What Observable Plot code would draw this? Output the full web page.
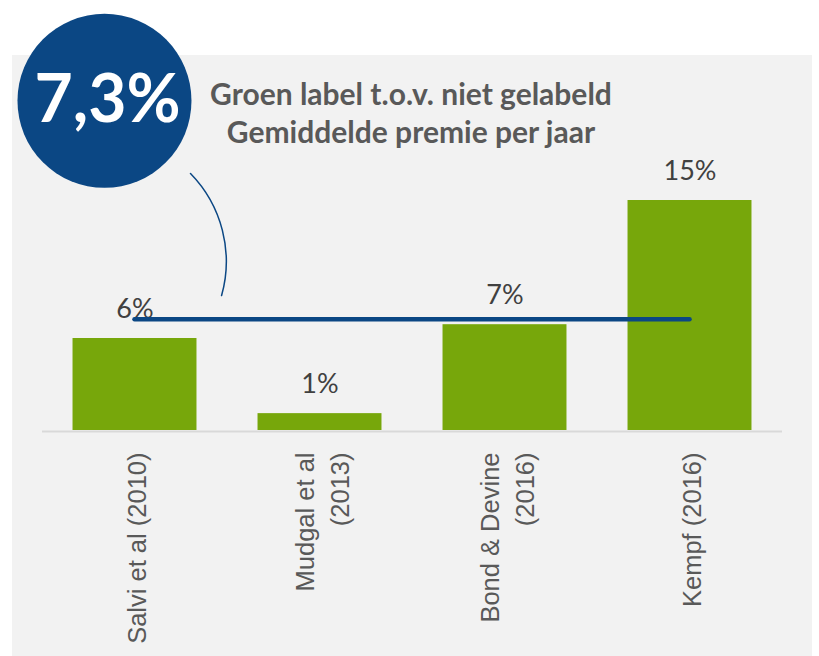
<!DOCTYPE html>
<html>
<head>
<meta charset="utf-8">
<script src="https://cdn.jsdelivr.net/npm/d3@7"></script>
<script src="https://cdn.jsdelivr.net/npm/@observablehq/plot@0.6"></script>
<style>
  html, body { margin: 0; padding: 0; background: #ffffff; }
  #wrap { position: relative; width: 819px; height: 656px; overflow: hidden; }
  #panel { position: absolute; left: 12px; top: 55px; width: 800px; height: 601px; background: #f2f2f2; }
  #title { position: absolute; left: 0; top: 74px; width: 822px; text-align: center;
           font-family: Lato, "Open Sans", sans-serif; font-weight: 700; font-size: 30px;
           line-height: 38px; color: #595959; }
  #chart { position: absolute; left: 0; top: 0; }
</style>
</head>
<body>
<div id="wrap">
  <div id="panel"></div>
  <div id="chart"></div>
  <div id="title">Groen label t.o.v. niet gelabeld<br>Gemiddelde premie per jaar</div>
</div>
<script>
// ---- data ----
const categories = ["Salvi et al (2010)", "Mudgal et al\n(2013)", "Bond & Devine\n(2016)", "Kempf (2016)"];
const values = [6.0, 1.1, 6.9, 15.0];
const valueLabels = ["6%", "1%", "7%", "15%"];

const data = categories.map((c, i) => ({i, category: c, value: values[i], label: valueLabels[i]}));
const average = d3.mean(values);
const averageLabel = average.toFixed(1).replace(".", ",") + "%";

// annotation placement (data space)
const badge = {x: -0.165, y: 21.5};
const connector = {x1: 0.30, y1: 16.76, x2: 0.468, y2: 8.8};

const green = "#77a70b";
const blue = "#0b4784";
const barHalf = 0.335;

const chart = Plot.plot({
  width: 819,
  height: 656,
  marginLeft: 42,
  marginRight: 37,
  marginTop: 46.667,
  marginBottom: 226,
  style: {background: "transparent", overflow: "visible"},
  x: {type: "linear", domain: [-0.5, 3.5]},
  y: {domain: [0, 25], axis: null},
  marks: [
    Plot.ruleY([0], {stroke: "#d9d9d9", strokeWidth: 2, dy: 1}),
    Plot.rect(data, {x1: d => d.i - barHalf, x2: d => d.i + barHalf, y1: 0, y2: "value", fill: green}),
    Plot.text(data, {x: "i", y: "value", text: "label", dy: -21, lineAnchor: "bottom",
      fontFamily: "Lato, 'Open Sans', sans-serif", fontSize: 27, fill: "#404040"}),
    Plot.ruleY([average], {x1: 0, x2: categories.length - 1, stroke: blue, strokeWidth: 4.5, strokeLinecap: "round"}),
    Plot.arrow([connector], {x1: "x1", y1: "y1", x2: "x2", y2: "y2", bend: 30, headLength: 0,
      stroke: blue, strokeWidth: 1.5}),
    Plot.dot([badge], {x: "x", y: "y", r: 87, fill: blue, stroke: "none"}),
    Plot.text([badge], {x: "x", y: "y", text: () => averageLabel, dx: 3, fill: "#ffffff",
      fontFamily: "Lato, 'Open Sans', sans-serif", fontWeight: 700, fontSize: 66, lineAnchor: "middle"}),
    Plot.axisX({
      ticks: d3.range(categories.length),
      tickFormat: i => categories[i],
      tickSize: 0,
      tickPadding: 22,
      rotate: -90,
      textAnchor: "end",
      lineAnchor: "middle",
      lineHeight: 1.4,
      fontSize: 25.5,
      fontFamily: "'Liberation Sans', Arial, sans-serif",
      fill: "#595959",
      label: null
    })
  ]
});
document.getElementById("chart").appendChild(chart);
</script>
</body>
</html>
